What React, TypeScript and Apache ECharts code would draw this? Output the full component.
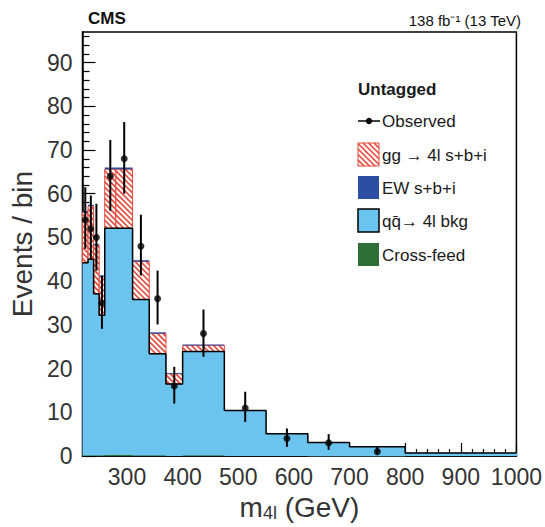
import React, { useEffect, useRef } from 'react';
import * as echarts from 'echarts';

// ---- data ----
const binEdges = [220, 230, 240, 250, 260, 280, 310, 340, 370, 400, 475, 550, 625, 700, 800, 1000];
const crossFeed = [0.2, 0.2, 0.2, 0.2, 0.3, 0.3, 0.2, 0.2, 0.1, 0.2, 0.1, 0.1, 0.05, 0.05, 0.1];
const qqBkg = [44.0, 44.8, 36.9, 32.0, 51.8, 51.8, 35.6, 23.2, 16.4, 23.7, 10.3, 5.0, 3.05, 2.05, 0.6];
const ggSBI = [11.5, 12.2, 11.1, 8.8, 13.5, 13.5, 8.7, 4.6, 2.3, 1.4, 0, 0, 0, 0, 0];
const ewSBI = [0.3, 0.3, 0.3, 0.3, 0.4, 0.4, 0.3, 0.3, 0.2, 0.2, 0.1, 0.05, 0.05, 0.05, 0.02];

const obsX = [225, 235, 245, 255, 270, 295, 325, 355, 385, 437.5, 512.5, 587.5, 662.5, 750];
const obsY = [54, 52, 50, 35, 64, 68, 48, 36, 16, 28, 11, 4, 3, 1];
const obsLow = [47.4, 45.1, 42.4, 29.1, 56.1, 60.0, 41.3, 30.1, 12.0, 22.7, 7.8, 2.1, 1.4, 0.4];
const obsHigh = [61.5, 59.6, 57.7, 41.3, 72.3, 76.4, 55.2, 42.4, 20.4, 33.5, 14.7, 6.3, 5.0, 2.3];

const xMajorTicks = [300, 400, 500, 600, 700, 800, 900, 1000];
const xMinorTicks = [240, 260, 280, 320, 340, 360, 380, 420, 440, 460, 480, 520, 540, 560, 580, 620, 640, 660, 680, 720, 740, 760, 780, 820, 840, 860, 880, 920, 940, 960, 980];
const yMajorTicks = [0, 10, 20, 30, 40, 50, 60, 70, 80, 90];
const yMinorTicks = [2, 4, 6, 8, 12, 14, 16, 18, 22, 24, 26, 28, 32, 34, 36, 38, 42, 44, 46, 48, 52, 54, 56, 58, 62, 64, 66, 68, 72, 74, 76, 78, 82, 84, 86, 88, 92, 94, 96];

// ---- styles ----
const FONT = 'Liberation Sans, Arial, Helvetica, sans-serif';
const C_QQ = '#6bc4ee';
const C_RED = '#e5463b';
const C_EW = '#2c4fa4';
const C_CF = '#2f6e37';

function hatchSegs(L: number, T: number, R: number, B: number, s = 5.5) {
  const segs: number[][] = [];
  const cMin = T - R;
  const cMax = B - L;
  for (let k = Math.ceil(cMin / s); k * s <= cMax; k++) {
    const c = k * s;
    const xa = Math.max(L, T - c);
    const xb = Math.min(R, B - c);
    if (xb - xa > 0.3) segs.push([xa, xa + c, xb, xb + c]);
  }
  return segs;
}

function hatchBox(L: number, T: number, R: number, B: number, graphicMode: boolean) {
  const children: any[] = [];
  children.push({
    type: 'rect',
    shape: { x: L, y: T, width: R - L, height: B - T },
    style: { fill: '#fffdf8', stroke: 'none' },
  });
  hatchSegs(L, T, R, B).forEach((sg) => {
    children.push({
      type: 'line',
      shape: { x1: sg[0], y1: sg[1], x2: sg[2], y2: sg[3] },
      style: { stroke: C_RED, lineWidth: 1.6 },
      silent: graphicMode,
    });
  });
  children.push({
    type: 'rect',
    shape: { x: L, y: T, width: R - L, height: B - T },
    style: { fill: 'none', stroke: C_RED, lineWidth: 1 },
  });
  return children;
}

export default function App() {
  const ref = useRef<HTMLDivElement>(null);

  useEffect(() => {
    if (!ref.current) return;
    const chart = echarts.init(ref.current, undefined, { renderer: 'svg' });

    const histData = binEdges.slice(0, -1).map((e, i) => [
      e, binEdges[i + 1], crossFeed[i], qqBkg[i], ggSBI[i], ewSBI[i],
    ]);
    const qqTop = qqBkg.map((v, i) => v + crossFeed[i]);
    const outline: number[][] = binEdges.map((e, i) => [e, qqTop[Math.min(i, qqTop.length - 1)]]);
    const errData = obsX.map((x, i) => [x, obsLow[i], obsHigh[i]]);
    const pts = obsX.map((x, i) => [x, obsY[i]]);

    const legendX = 358;
    const boxW = 21;
    const boxH = 23;
    const textX = 382;
    const legendText = (y: number, t: string) => ({
      type: 'text',
      x: textX,
      y,
      style: { text: t, font: `17px ${FONT}`, fill: '#1a1a1a', verticalAlign: 'middle', align: 'left' },
    });

    const option: any = {
      animation: false,
      backgroundColor: '#ffffff',
      grid: {
        left: 82, right: 25, top: 32, bottom: 69,
        show: true, borderColor: '#000', borderWidth: 1.5, backgroundColor: 'transparent',
      },
      xAxis: [
        {
          type: 'value', min: 220, max: 1000, position: 'bottom',
          axisLine: { show: true, lineStyle: { color: '#000', width: 1.5 } },
          axisTick: { show: true, inside: true, length: 13, customValues: xMajorTicks, lineStyle: { color: '#000', width: 1.2 } },
          axisLabel: { customValues: xMajorTicks, fontSize: 23, color: '#333', fontFamily: FONT, margin: 9, formatter: (v: number) => String(v) },
          splitLine: { show: false },
          name: '{m|m}{s|4l}{m| (GeV)}',
          nameLocation: 'middle',
          nameGap: 36,
          nameTextStyle: {
            rich: {
              m: { fontSize: 28, fontFamily: FONT, color: '#333', lineHeight: 30 },
              s: { fontSize: 18, fontFamily: FONT, color: '#333', lineHeight: 18, verticalAlign: 'bottom' },
            },
          },
        },
        {
          type: 'value', min: 220, max: 1000, position: 'bottom',
          axisLine: { show: false },
          axisTick: { show: true, inside: true, length: 7, customValues: xMinorTicks, lineStyle: { color: '#000', width: 1.2 } },
          axisLabel: { show: false },
          splitLine: { show: false },
        },
      ],
      yAxis: [
        {
          type: 'value', min: 0, max: 97, position: 'left',
          axisLine: { show: true, lineStyle: { color: '#000', width: 1.5 } },
          axisTick: { show: true, inside: true, length: 13, customValues: yMajorTicks, lineStyle: { color: '#000', width: 1.2 } },
          axisLabel: { customValues: yMajorTicks, fontSize: 23, color: '#333', fontFamily: FONT, margin: 10, formatter: (v: number) => String(v) },
          splitLine: { show: false },
          name: 'Events / bin',
          nameLocation: 'middle',
          nameGap: 43,
          nameTextStyle: { fontSize: 28, fontFamily: FONT, color: '#333' },
        },
        {
          type: 'value', min: 0, max: 97, position: 'left',
          axisLine: { show: false },
          axisTick: { show: true, inside: true, length: 7, customValues: yMinorTicks, lineStyle: { color: '#000', width: 1.2 } },
          axisLabel: { show: false },
          splitLine: { show: false },
        },
      ],
      series: [
        {
          type: 'custom',
          xAxisIndex: 0, yAxisIndex: 0,
          z: 2,
          data: histData,
          encode: { x: [0, 1], y: [3] },
          renderItem: (params: any, api: any) => {
            const x0 = api.value(0), x1 = api.value(1);
            const cf = api.value(2), qq = api.value(3), gg = api.value(4), ew = api.value(5);
            const lv = [0, cf, cf + qq, cf + qq + gg, cf + qq + gg + ew];
            const pL = api.coord([x0, 0])[0];
            const pR = api.coord([x1, 0])[0];
            const ys = lv.map((v) => api.coord([x0, v])[1]);
            const w = pR - pL + 0.6;
            const children: any[] = [];
            if (cf > 0) children.push({ type: 'rect', shape: { x: pL, y: ys[1], width: w, height: ys[0] - ys[1] }, style: { fill: C_CF } });
            children.push({ type: 'rect', shape: { x: pL, y: ys[2], width: w, height: ys[1] - ys[2] + 0.4 }, style: { fill: C_QQ } });
            if (gg > 0) hatchBox(pL, ys[3], pR, ys[2], false).forEach((c) => children.push(c));
            if (ew > 0) children.push({ type: 'rect', shape: { x: pL, y: ys[4], width: pR - pL, height: ys[3] - ys[4] }, style: { fill: C_EW } });
            return { type: 'group', children };
          },
        },
        {
          type: 'line',
          xAxisIndex: 0, yAxisIndex: 0,
          step: 'end',
          z: 3,
          symbol: 'none',
          data: outline,
          lineStyle: { color: '#000', width: 1.5 },
        },
        {
          type: 'custom',
          xAxisIndex: 0, yAxisIndex: 0,
          z: 4,
          data: errData,
          encode: { x: 0, y: [1, 2] },
          renderItem: (params: any, api: any) => {
            const a = api.coord([api.value(0), api.value(1)]);
            const b = api.coord([api.value(0), api.value(2)]);
            return { type: 'line', shape: { x1: a[0], y1: a[1], x2: b[0], y2: b[1] }, style: { stroke: '#000', lineWidth: 2 } };
          },
        },
        {
          type: 'scatter',
          xAxisIndex: 0, yAxisIndex: 0,
          z: 5,
          symbol: 'circle',
          symbolSize: 7,
          itemStyle: { color: '#000' },
          data: pts,
        },
      ],
      graphic: [
        { type: 'text', x: 88, y: 18.5, style: { text: 'CMS', font: `bold 17px ${FONT}`, fill: '#111', verticalAlign: 'middle', align: 'left' } },
        { type: 'text', x: 521, y: 20.5, style: { text: '138 fb\u207B\u00B9 (13 TeV)', font: `15px ${FONT}`, fill: '#111', verticalAlign: 'middle', align: 'right' } },
        { type: 'text', x: legendX, y: 89, style: { text: 'Untagged', font: `bold 17px ${FONT}`, fill: '#1a1a1a', verticalAlign: 'middle', align: 'left' } },
        { type: 'line', shape: { x1: legendX, y1: 121, x2: legendX + 22, y2: 121 }, style: { stroke: '#000', lineWidth: 1.5 } },
        { type: 'circle', shape: { cx: legendX + 11, cy: 121, r: 3.2 }, style: { fill: '#000' } },
        legendText(121, 'Observed'),
        { type: 'group', children: hatchBox(legendX, 143, legendX + boxW, 143 + boxH, true) },
        legendText(155, 'gg \u2192 4l s+b+i'),
        { type: 'rect', shape: { x: legendX, y: 176, width: boxW, height: boxH }, style: { fill: C_EW } },
        legendText(188, 'EW s+b+i'),
        { type: 'rect', shape: { x: legendX, y: 209, width: boxW, height: boxH }, style: { fill: C_QQ, stroke: '#000', lineWidth: 1.5 } },
        legendText(221, 'qq\u0304\u2192 4l bkg'),
        { type: 'rect', shape: { x: legendX, y: 243, width: boxW, height: boxH }, style: { fill: C_CF } },
        legendText(255, 'Cross-feed'),
      ],
    };

    chart.setOption(option);
    return () => chart.dispose();
  }, []);

  return <div ref={ref} style={{ position: 'fixed', left: 0, top: 0, width: 545, height: 527 }} />;
}
